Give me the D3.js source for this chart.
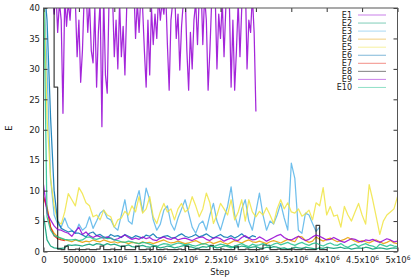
<!DOCTYPE html>
<html><head><meta charset="utf-8">
<script src="https://cdn.jsdelivr.net/npm/d3@7"></script>
<style>body{margin:0;background:#fff} text{font-family:"DejaVu Sans",sans-serif;fill:#222}</style>
</head><body><svg id="c" width="415" height="277"></svg>
<script>
// ---------- data ----------
const seriesNames = ["E1","E2","E3","E4","E5","E6","E7","E8","E9","E10"];
const seriesColors = ["#9400d3","#009e73","#56b4e9","#e69f00","#f0e442","#0072b2","#e51e10","#000000","#9400d3","#1fbf8f"];
const stepFine = 25000;   // sampling interval of E1
const stepCoarse = 50000; // sampling interval of the other series
const yTicks = [0,5,10,15,20,25,30,35,40];
const xTicks = [0,500000,1000000,1500000,2000000,2500000,3000000,3500000,4000000,4500000,5000000];
const xTickLabels = ["0","500000","1x10^6","1.5x10^6","2x10^6","2.5x10^6","3x10^6","3.5x10^6","4x10^6","4.5x10^6","5x10^6"];

const E1 = [48,46,45,44,42,44,39,43,36,41,38,22.7,42,37,41,38,43,45,41,32,38,27.8,33,42,44,36,41,33,31,40,
  27,36,41,20.5,42,29,26,41,44,42,32,38,30,41,32,37,29,40,43,45,42,44,35,41,36,42,40,33,27,38,
  29,40,34,39,35,42,38,41,39,43,34,26.5,38,41,44,35,39,29.8,37,41,43,33,26.5,36,30,38,41,34,42,44,
  34,42,38,26.5,33,41,44,42,30,39,35,41,32,40,43,41,27,38,26.5,33,41,32,40,42,45,30,38,36,42,36,23];
const E2 = [6,1.9,0.9,0.6,0.5,0.5,0.6,1.1,1.0,1.1,1.0,0.9,1.1,1.2,1.0,1.3,1.2,1.0,1.3,1.1,
  1.2,1.0,0.8,0.9,1.1,0.8,0.7,0.9,1.0,0.8,0.7,0.9,0.8,0.6,0.7,0.9,0.8,0.6,0.7,0.9,
  1.0,0.8,0.7,0.5,0.6,0.8,0.7,0.9,0.8,0.6,0.7,0.9,1.0,0.8,0.6,0.7,0.9,0.8,0.6,0.7,
  0.8,0.6,0.5,0.7,0.6,0.8,0.7,0.5,0.6,0.4,0.5,0.7,0.6,0.5,0.7,0.6,0.5,0.4,0.6,0.5,
  0.7,0.6,0.5,0.6,0.7,0.5,0.6,0.4,0.5,0.6,0.5,0.7,0.6,0.4,0.5,0.6,0.5,0.4,0.5,0.6,0.5];
const E3 = [45,30,12,6,4.5,4,5.5,4,3.5,3,4.5,3.5,4,5.7,3.8,5,6.3,6.8,5.5,5.2,
  4,3.5,6,8.5,5,4.5,8,10,6.5,10.4,8.5,5.2,3.5,4.5,6.8,7.5,4.6,3.5,5.5,7,
  8.5,6.3,4,3,4.5,5,3.5,6,7.9,5,3.5,5.5,7.4,10.6,6,4,7,8.5,5,3.5,
  6.5,9.6,6,3.5,5,4.5,6,7.9,5.5,3.5,14.5,12,3.5,3,6.3,6,4.6,3.3,4];
const E4 = [9,7.4,4,3,2.4,2.1,1.9,1.8,1.6,1.9,1.7,1.5,1.7,1.6,1.9,1.7,1.6,1.9,1.7,1.5,
  1.6,1.4,1.6,1.5,1.3,1.5,1.4,1.3,1.6,1.4,1.5,1.3,1.5,1.7,1.9,1.6,1.4,1.5,1.7,1.5,
  1.3,1.4,1.6,1.8,1.5,1.2,1.4,1.6,1.3,1.5,1.7,1.4,1.2,1.5,1.8,1.6,1.4,1.7,1.9,1.6,
  1.5,1.7,1.5,1.3,1.6,1.8,1.6,1.4,1.7,2.0,1.8,1.6,2.5,2.4,1.8,1.5,1.7,2.4,2.0,1.7,
  2.0,2.2,1.9,1.6,1.8,2.0,2.3,2.0,1.7,1.5,1.8,1.6,1.4,1.7,1.9,1.6,1.3,1.5,1.8,1.4,1.3];
const E5 = [45,22,12,7.5,5,4.5,6.5,9.5,8.5,7.5,10.5,9.5,8,7.5,5.7,6,5.2,6.8,6,5.7,
  4,5.2,5.5,6.6,6,7.5,6.5,9,6.3,7,9,5.7,4.6,6.5,7.9,6.5,7,5.2,7,7.9,
  6.5,7,9,7.5,5.7,7,9.6,8,4.6,6,7.9,7,6,8.5,5.2,6.5,8.5,5,8.5,6.5,
  5.7,6.6,6,7.2,6,4.6,7,8.5,7,8,6.5,6.3,7,5.8,6.2,6.8,5.2,8,7.5,10.5,
  6,7.4,5.8,6,4,7.4,6,5,6.5,7.9,6,4.5,11,8.5,5.7,2.8,5,6,6.5,7,9];
const E6 = [45,38,22,10,5,3.8,3.5,3.2,3.4,3,3,2.7,2.4,3,3.2,2.6,2.8,2.4,2.2,2.8,
  2.5,2.6,2.3,2.8,2.5,2.2,2.6,2.4,2.2,2.7,2.5,2.9,2.3,2.2,2.5,2.6,2.3,2.2,2.6,2.9,
  2.5,2.3,2.5,2.8,2.4,2.6,2.9,2.5,2.2,2.5,2.8,2.4,2.3,2.6,2.2,2.5,2.9,2.4,2.2,2.6,2.4];
const E7 = [9,7,4,2.6,2.1,1.9,1.8];
const E8 = [45,45,44,27,0.4,0.3,0.9,0.3,0.3,0.4,0.3,0.3,0.4,0.3,0.3,0.4,0.9,0.3,0.3,0.4,
  0.3,0.3,0.9,0.3,0.3,0.3,0.9,0.3,0.3,0.4,0.3,0.9,0.3,0.3,0.4,0.3,0.3,0.3,0.4,0.3,
  0.9,0.3,0.3,0.4,0.3,0.3,0.3,1.0,0.3,0.3,0.4,0.3,0.3,0.3,0.9,0.3,0.3,0.4,0.3,0.3,
  0.3,0.4,1.1,1.0,0.3,0.3,0.4,0.3,0.3,0.3,0.4,0.3,0.3,0.4,0.3,0.3,0.3,4.3,0.3,0.3,0.4];
const E9 = [11,6.3,5.2,4.2,3.6,3.5,3.2,3,2.5,3.3,4,2.8,3.2,2.6,2.3,2.6,2.4,2.2,2.4,2.2,
  1.9,2.1,2.4,2.7,2.3,2.0,2.2,2.0,2.4,2.1,2.3,1.9,1.8,2.2,2.4,2.1,2.0,2.3,1.9,2.1,
  2.2,2.0,1.8,2.1,2.3,2.4,2.0,1.8,2.2,2.3,2.1,1.7,2.0,2.2,1.9,1.8,2.3,2.6,2.2,1.9,
  2.0,2.4,2.1,1.7,2.0,2.3,2.6,2.8,2.3,2.0,1.9,2.2,2.5,2.1,1.8,2.0,2.4,2.7,2.5,2.2,
  1.9,2.0,2.3,2.0,1.7,1.5,1.8,2.1,2.0,1.7,1.6,1.9,1.8,2.0,1.7,1.5,1.8,2.1,1.9,1.6,1.7];
const E10 = [45,5.7,3.5,2.6,2.4,2.2,2.0,1.9,1.9,2.0,1.8,1.9,2.3,2.4,2.1,2.0,2.2,2.3,2.1,2.2,
  1.9,1.8,1.6,1.5,1.7,1.6,1.4,1.3,1.5,1.4,1.2,1.0,0.8,1.1,1.3,1.2,1.0,1.2,1.4,1.3,
  1.1,1.2,1.0,0.9,1.1,1.3,1.2,0.9,0.8,1.0,1.2,1.1,0.8,0.6,0.9,1.1,1.3,1.0,0.8,1.2,
  1.0,1.1,1.3,1.0,0.9,1.2,1.4,1.1,1.3,1.5,1.2,1.0,1.3,1.5,1.2,1.0,1.3,1.4,1.1,0.9,
  1.2,1.4,1.1,1.0,1.3,0.9,0.7,1.0,1.2,0.8,1.1,1.3,1.0,0.9,0.6,1.2,1.0,0.8,1.1,0.9,0.8];

const seriesValues = [E1,E2,E3,E4,E5,E6,E7,E8,E9,E10];
const seriesInterval = [stepFine,stepCoarse,stepCoarse,stepCoarse,stepCoarse,stepCoarse,stepCoarse,stepCoarse,stepCoarse,stepCoarse];

// ---------- chart ----------
const svg = d3.select("#c");
const L = 43.5, R = 397.5, T = 8, B = 251.5;
const x = d3.scaleLinear().domain([0,5000000]).range([L,R]);
const y = d3.scaleLinear().domain([0,40]).range([B,T]);

svg.append("defs").append("clipPath").attr("id","clip")
  .append("rect").attr("x",L).attr("y",T).attr("width",R-L).attr("height",B-T);

const gLines = svg.append("g").attr("clip-path","url(#clip)");
seriesValues.forEach((vals,k)=>{
  const pts = vals.map((v,i)=>[i*seriesInterval[k], v]);
  const line = d3.line().x(d=>x(d[0])).y(d=>y(d[1]))
    .curve(seriesNames[k]==="E8" ? d3.curveStepAfter : d3.curveLinear);
  gLines.append("path").datum(pts)
    .attr("d",line).attr("fill","none")
    .attr("stroke",seriesColors[k])
    .attr("stroke-opacity", seriesNames[k]==="E8" ? 0.75 : 0.85)
    .attr("stroke-width",1.25)
    .attr("stroke-linejoin","round");
});

// axes (ticks inward, mirrored)
const fs = 8.5;
const ax = svg.append("g").attr("transform",`translate(0,${B})`)
  .call(d3.axisBottom(x).tickValues(xTicks).tickSizeInner(-4).tickSizeOuter(0).tickPadding(5.5));
const ay = svg.append("g").attr("transform",`translate(${L},0)`)
  .call(d3.axisLeft(y).tickValues(yTicks).tickSizeInner(-4).tickSizeOuter(0).tickPadding(3.5));
const axT = svg.append("g").attr("transform",`translate(0,${T})`)
  .call(d3.axisTop(x).tickValues(xTicks).tickSizeInner(-4).tickSizeOuter(0).tickFormat(""));
const ayR = svg.append("g").attr("transform",`translate(${R},0)`)
  .call(d3.axisRight(y).tickValues(yTicks).tickSizeInner(-4).tickSizeOuter(0).tickFormat(""));
[ax,ay,axT,ayR].forEach(g=>{
  g.select(".domain").remove();
  g.selectAll(".tick line").attr("stroke","#333");
  g.selectAll("text").attr("font-size",fs).attr("font-family","DejaVu Sans").attr("fill","#222");
});
ax.selectAll(".tick text").each(function(d,i){
  const t = d3.select(this); t.text(null);
  const parts = xTickLabels[i].split("^");
  t.append("tspan").text(parts[0]);
  if(parts[1]) t.append("tspan").attr("font-size",6).attr("dy","-0.55em").text(parts[1]);
});

// frame
svg.append("rect").attr("x",L).attr("y",T).attr("width",R-L).attr("height",B-T)
  .attr("fill","none").attr("stroke","#555").attr("stroke-width",1);

// axis titles
svg.append("text").attr("x",220).attr("y",275).attr("text-anchor","middle")
  .attr("font-size",fs).text("Step");
svg.append("text").attr("transform","translate(12,128) rotate(-90)").attr("text-anchor","middle")
  .attr("font-size",fs).text("E");

// legend
const lg = svg.append("g");
seriesNames.forEach((n,k)=>{
  const yy = 15 + k*8.05;
  lg.append("text").attr("x",352).attr("y",yy+3).attr("text-anchor","end")
    .attr("font-size",8).text(n);
  lg.append("line").attr("x1",358).attr("x2",386).attr("y1",yy).attr("y2",yy)
    .attr("stroke",seriesColors[k]).attr("stroke-opacity",0.5).attr("stroke-width",1);
});
</script></body></html>
